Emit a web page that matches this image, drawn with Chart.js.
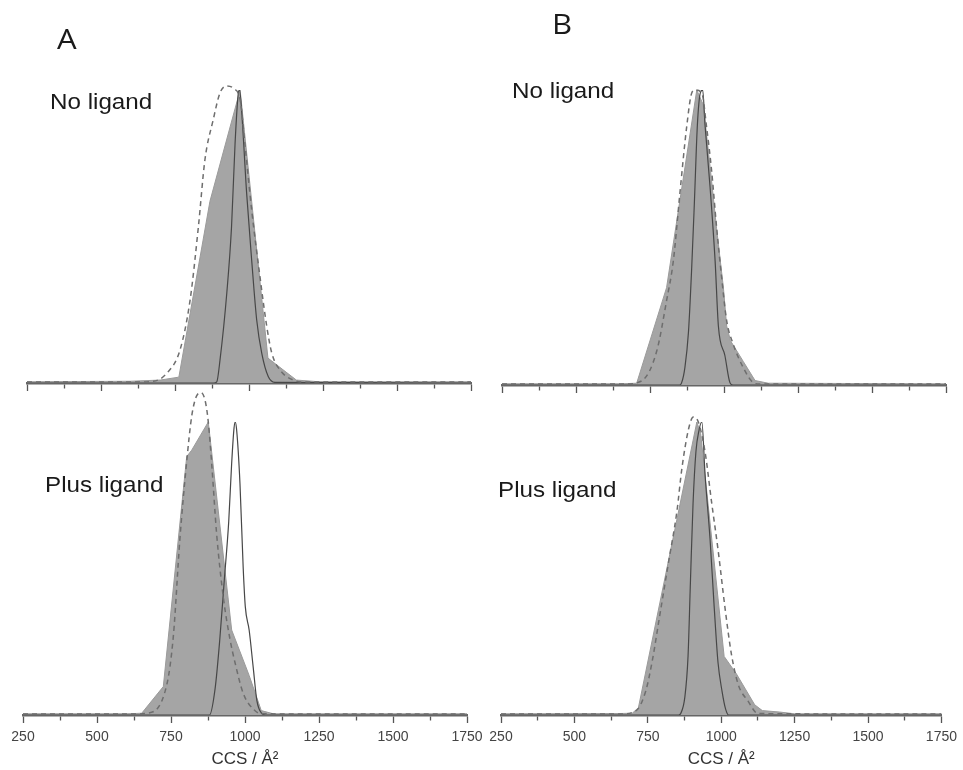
<!DOCTYPE html>
<html>
<head>
<meta charset="utf-8">
<script src="https://cdn.jsdelivr.net/npm/chart.js@4.4.1/dist/chart.umd.min.js"></script>
<style>
  body { margin: 0; background: #fff; }
  #wrap { position: relative; width: 963px; height: 770px; overflow: hidden; }
  #wrap canvas { position: absolute; left: 0; top: 0; }
  .lbl { position: absolute; font-family: "Liberation Sans", Arial, sans-serif; font-size: 22px; line-height: 1;
         color: #1a1a1a; transform: scaleX(1.1); transform-origin: left top; white-space: nowrap; }
  .panel { position: absolute; font-family: "Open Sans", sans-serif; font-size: 27px; line-height: 1; color: #1a1a1a;
           transform: scaleX(1.15); transform-origin: left top; }
</style>
</head>
<body>
<div id="wrap">
  <canvas id="aTop" width="963" height="770"></canvas>
  <canvas id="aBottom" width="963" height="770"></canvas>
  <canvas id="bTop" width="963" height="770"></canvas>
  <canvas id="bBottom" width="963" height="770"></canvas>
  <div class="panel" style="left:57px; top:25px;">A</div>
  <div class="panel" style="left:552px; top:10px;">B</div>
  <div class="lbl" style="left:50px; top:91px;">No ligand</div>
  <div class="lbl" style="left:512px; top:80px;">No ligand</div>
  <div class="lbl" style="left:45px; top:474px;">Plus ligand</div>
  <div class="lbl" style="left:498px; top:479px;">Plus ligand</div>
</div>
<script>
// x axis: CCS in A^2, y: normalised intensity (peak of grey area = 1)
var xTicks = [250, 500, 750, 1000, 1250, 1500, 1750];
var xTitle = 'CCS / Å²';

// panel A, no ligand
var aNoFill = [[250,0.004],[600,0.006],[700,0.01],[763,0.02],[868,0.62],[970,1.0],[1064,0.085],[1160,0.01],[1240,0.004],[1750,0.004]];
var aNoSolid = [[250,0],[880,0],[891,0.004],[902,0.078],[925,0.307],[941,0.533],[953,0.819],[964,0.99],[968,1.0],[975,0.93],[992,0.648],[1009,0.42],[1026,0.215],[1043,0.102],[1065,0.022],[1088,0.002],[1750,0]];
var aNoDash = [[250,0.003],[600,0.003],[677,0.006],[722,0.033],[767,0.113],[801,0.283],[829,0.533],[851,0.761],[879,0.898],[902,0.99],[925,1.014],[947,1.006],[970,0.966],[986,0.818],[1009,0.59],[1037,0.363],[1060,0.193],[1077,0.102],[1105,0.044],[1150,0.01],[1195,0.003],[1750,0.003]];

// panel A, plus ligand
var aPlusFill = [[250,0.004],[600,0.004],[651,0.006],[724,0.097],[803,0.882],[820,0.904],[876,1.0],[955,0.29],[1014,0.135],[1055,0.015],[1096,0.004],[1750,0.004]];
var aPlusSolid = [[250,0],[880,0],[899,0.09],[915,0.26],[930,0.46],[945,0.66],[955,0.86],[963,0.98],[967,1.0],[972,0.97],[983,0.79],[994,0.5],[1001,0.37],[1014,0.29],[1028,0.16],[1040,0.05],[1056,0.006],[1070,0],[1750,0]];
var aPlusDash = [[250,0.003],[620,0.003],[668,0.006],[735,0.1],[758,0.27],[780,0.6],[803,0.865],[820,1.02],[837,1.09],[852,1.1],[866,1.07],[876,1.0],[888,0.85],[904,0.62],[927,0.4],[949,0.26],[966,0.18],[994,0.074],[1028,0.02],[1055,0.004],[1750,0.003]];

// panel B, no ligand
var bNoFill = [[250,0.004],[650,0.004],[705,0.006],[806,0.33],[908,1.0],[930,0.95],[953,0.74],[975,0.53],[998,0.33],[1009,0.2],[1022,0.15],[1065,0.08],[1105,0.015],[1150,0.006],[1750,0.004]];
var bNoSolid = [[250,0],[850,0],[857,0.008],[868,0.06],[880,0.18],[891,0.4],[900,0.62],[910,0.88],[920,0.99],[928,1.0],[936,0.88],[953,0.67],[970,0.42],[981,0.2],[1003,0.1],[1020,0.008],[1030,0],[1750,0]];
var bNoDash = [[250,0.003],[660,0.003],[722,0.014],[773,0.116],[806,0.286],[829,0.422],[851,0.65],[874,0.876],[891,0.99],[902,1.0],[925,0.99],[941,0.876],[958,0.728],[975,0.535],[992,0.365],[1009,0.218],[1031,0.139],[1065,0.059],[1099,0.008],[1122,0.003],[1750,0.003]];

// panel B, plus ligand
var bPlusFill = [[250,0.004],[650,0.005],[697,0.006],[718,0.025],[917,1.0],[930,0.96],[1010,0.2],[1052,0.14],[1114,0.035],[1140,0.015],[1200,0.01],[1250,0.004],[1750,0.004]];
var bPlusSolid = [[250,0],[855,0],[862,0.005],[876,0.06],[887,0.2],[895,0.45],[904,0.72],[914,0.9],[924,0.97],[934,1.0],[945,0.82],[962,0.6],[976,0.37],[989,0.18],[1003,0.08],[1015,0.02],[1025,0],[1750,0]];
var bPlusDash = [[250,0.003],[650,0.003],[709,0.014],[743,0.082],[765,0.184],[793,0.354],[821,0.524],[849,0.694],[866,0.841],[889,0.977],[905,1.017],[922,1.0],[945,0.898],[967,0.728],[990,0.558],[1013,0.365],[1035,0.206],[1058,0.104],[1091,0.048],[1125,0.005],[1750,0.003]];

function toXY(arr) {
  return arr.map(function (p) { return { x: p[0], y: p[1] }; });
}

function makePanel(id, pad, axisH, showLabels, fill, solid, dash) {
  var ctx = document.getElementById(id).getContext('2d');
  return new Chart(ctx, {
    type: 'line',
    data: {
      datasets: [
        { data: toXY(dash), borderColor: '#6e6e6e', borderWidth: 1.5, borderDash: [5, 4],
          cubicInterpolationMode: 'monotone', pointRadius: 0, fill: false, clip: false },
        { data: toXY(solid), borderColor: '#474747', borderWidth: 1.2,
          cubicInterpolationMode: 'monotone', pointRadius: 0, fill: false },
        { data: toXY(fill), borderColor: '#9a9a9a', borderWidth: 1, backgroundColor: '#a5a5a5',
          tension: 0, pointRadius: 0, fill: 'origin' }
      ]
    },
    options: {
      responsive: false,
      animation: false,
      events: [],
      layout: { padding: pad },
      plugins: { legend: { display: false }, tooltip: { enabled: false } },
      scales: {
        x: {
          type: 'linear', min: 250, max: 1750,
          ticks: {
            stepSize: 125, autoSkip: false, maxRotation: 0, padding: 6,
            display: showLabels, color: '#444',
            font: { family: '"Liberation Sans", Arial, sans-serif', size: 14 },
            callback: function (v) { return xTicks.indexOf(v) >= 0 ? String(v) : ''; }
          },
          grid: {
            drawOnChartArea: false, drawTicks: true, tickLength: 8, tickColor: '#555', tickWidth: 1.3,
            tickBorderDash: function (c) {
              return (c.tick && xTicks.indexOf(c.tick.value) < 0) ? [4, 20] : [];
            }
          },
          border: { color: '#666', width: 2.5 },
          title: {
            display: showLabels, text: xTitle, color: '#333', padding: { top: 0, bottom: 0 },
            font: { family: '"Liberation Sans", Arial, sans-serif', size: 17 }
          },
          afterFit: function (s) { s.height = axisH; }
        },
        y: { display: false, min: 0, max: 1 }
      }
    }
  });
}

makePanel('aTop',    { left: 27,  right: 492, top: 90,  bottom: 377 }, 10, false, aNoFill, aNoSolid, aNoDash);
makePanel('aBottom', { left: 23,  right: 496, top: 422, bottom: 0 },   55, true,  aPlusFill, aPlusSolid, aPlusDash);
makePanel('bTop',    { left: 502, right: 17,  top: 90,  bottom: 375 }, 10, false, bNoFill, bNoSolid, bNoDash);
makePanel('bBottom', { left: 501, right: 18,  top: 422, bottom: 0 },   55, true,  bPlusFill, bPlusSolid, bPlusDash);
</script>
</body>
</html>
